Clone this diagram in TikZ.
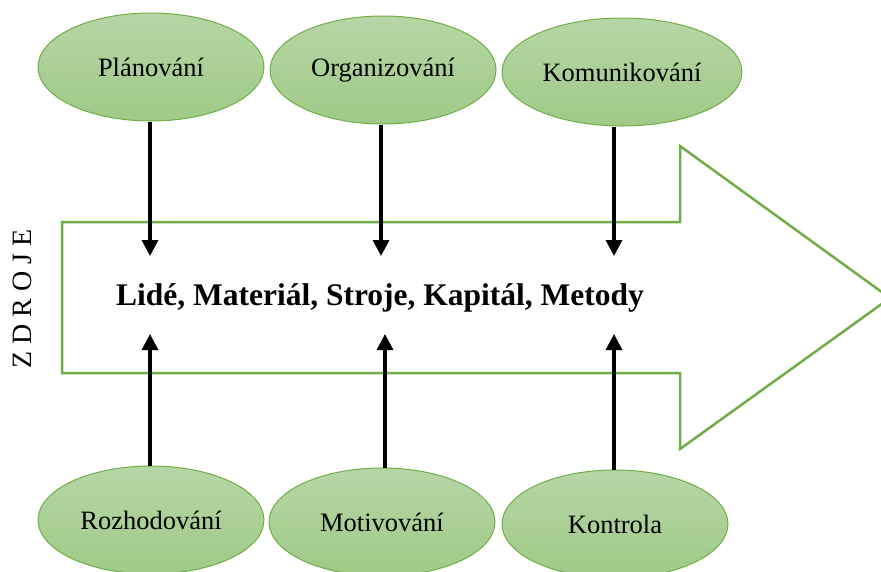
\documentclass[tikz,border=0pt]{standalone}
\usepackage{fontspec}
\setmainfont{Liberation Serif}
\usetikzlibrary{shapes.geometric,arrows.meta}
\definecolor{leafline}{HTML}{70AD47}
\definecolor{leaftop}{HTML}{B6D6A6}
\definecolor{leafbot}{HTML}{9FCA87}
\tikzset{
  task/.style={ellipse, draw=leafline, line width=1pt, top color=leaftop, bottom color=leafbot,
    minimum width=226pt, minimum height=108pt, inner sep=0pt,
    font=\fontsize{26.5}{30}\selectfont},
  flow/.style={draw=leafline, line width=2.5pt, line join=miter},
  feed/.style={line width=3.2pt, -{Triangle[width=16pt,length=16pt]}},
}
\begin{document}
\begin{tikzpicture}[x=1pt,y=-1pt]
  \useasboundingbox (0,0) rectangle (881,571);
  \clip (0,0) rectangle (881,571);
  % big process arrow
  \draw[flow] (62,222) -- (680,222) -- (680,146) -- (890,298) -- (680,449) -- (680,373) -- (62,373) -- cycle;
  \node[font=\fontsize{31.5}{36}\selectfont\bfseries] (res) at (380,298) {Lidé, Materiál, Stroje, Kapitál, Metody};
  \node[rotate=90, font=\fontsize{28}{32}\selectfont] (zdroje) at (22,299) {Z D R O J E};
  % management functions
  \node[task] (plan) at (151,67) {Plánování};
  \node[task] (org) at (383,70) {Organizování};
  \node[task, minimum width=240pt] (kom) at (622,72) {Komunikování};
  \node[task] (roz) at (151,520) {Rozhodování};
  \node[task] (mot) at (382,522) {Motivování};
  \node[task] (kon) at (615,524) {Kontrola};
  % arrow ends
  \coordinate (t1) at (150,256);
  \coordinate (t2) at (381,256);
  \coordinate (t3) at (614,256);
  \coordinate (b1) at (150,334);
  \coordinate (b2) at (385,334);
  \coordinate (b3) at (614,334);
  \draw[feed] (plan.south -| t1) -- (t1);
  \draw[feed] (org.south -| t2) -- (t2);
  \draw[feed] (kom.south -| t3) -- (t3);
  \draw[feed] (roz.north -| b1) -- (b1);
  \draw[feed] (mot.north -| b2) -- (b2);
  \draw[feed] (kon.north -| b3) -- (b3);
\end{tikzpicture}
\end{document}
